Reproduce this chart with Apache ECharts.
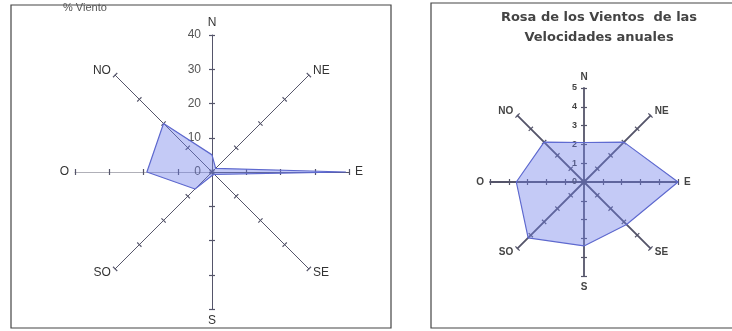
<!DOCTYPE html>
<html>
<head>
<meta charset="utf-8">
<script src="https://cdn.jsdelivr.net/npm/echarts@6/dist/echarts.min.js"></script>
<style>
html,body{margin:0;padding:0;background:#fff;}
#c{width:732px;height:331px;}
</style>
</head>
<body>
<div id="c"></div>
<script>
// Directions, ordered counterclockwise starting at North
const directions = ['N', 'NO', 'O', 'SO', 'S', 'SE', 'E', 'NE'];
// Left chart: % of wind per direction (same order)
const windPercent = [5, 20, 19, 7, 1, 1, 39, 1.5];
const windPercentMax = 40;
// Right chart: annual mean speeds per direction (same order)
const windSpeed = [2.1, 3, 3.6, 4.2, 3.4, 3.2, 5, 3];
const windSpeedMax = 5;
const leftTitle = '% Viento';
const rightTitle = 'Rosa de los Vientos  de las\nVelocidades anuales';

const chart = echarts.init(document.getElementById('c'), null, {renderer: 'canvas'});

const axisColor = '#55556a';
function indicators(max, labelOpt, lightO) {
  return directions.map((d, i) => {
    const ind = {name: d, max: max, min: 0};
    if (i === 0 && labelOpt) ind.axisLabel = Object.assign({show: true}, labelOpt);
    if (d === 'O' && lightO) ind.axisLine = {lineStyle: {color: '#b0b0b8', width: 1}};
    return ind;
  });
}
// main radar + an overlay radar whose ticks point the other way (cross-shaped ticks)
function radarPair(center, radius, max, split, labelOpt, nameOpt, lineW, lightO) {
  const main = {
    center: center, radius: radius, startAngle: 90, shape: 'polygon',
    splitNumber: split,
    indicator: indicators(max, labelOpt, lightO),
    axisName: nameOpt,
    nameGap: 6,
    axisLine: {show: true, lineStyle: {color: axisColor, width: lineW}},
    axisTick: {show: true, length: 3, lineStyle: {color: axisColor, width: 1.2}},
    axisLabel: {show: false},
    splitLine: {show: false},
    splitArea: {show: false}
  };
  const overlay = {
    center: center, radius: radius, startAngle: 90, shape: 'polygon',
    splitNumber: split,
    indicator: indicators(max, null, false),
    axisName: {show: false},
    axisLine: {show: false},
    axisTick: {show: true, length: -3, lineStyle: {color: axisColor, width: 1.2}},
    axisLabel: {show: false},
    splitLine: {show: false},
    splitArea: {show: false}
  };
  return [main, overlay];
}

chart.setOption({
  animation: false,
  title: [
    {text: leftTitle, left: 58, top: -3, textStyle: {fontSize: 11, fontWeight: 'normal', color: '#555', fontFamily: 'Liberation Sans'}},
    {text: rightTitle, left: 594, textAlign: 'center', top: 3, textStyle: {fontSize: 13, fontWeight: 'bold', color: '#444', lineHeight: 20, fontFamily: 'DejaVu Sans'}}
  ],
  graphic: [
    {type: 'rect', shape: {x: 11, y: 5, width: 380, height: 323}, style: {fill: 'none', stroke: '#444', lineWidth: 1.2}, z: -1},
    {type: 'rect', shape: {x: 431, y: 3, width: 320, height: 325}, style: {fill: 'none', stroke: '#444', lineWidth: 1.2}, z: -1}
  ],
  radar: [].concat(
    radarPair([212, 172], 137, windPercentMax, 4,
      {color: '#555', fontSize: 12, margin: 11, fontFamily: 'Liberation Sans'},
      {color: '#333', fontSize: 12, fontFamily: 'Liberation Sans'}, 1, true),
    radarPair([584, 182], 94, windSpeedMax, 5,
      {color: '#444', fontSize: 9, fontWeight: 'bold', margin: 7, fontFamily: 'Liberation Sans'},
      {color: '#444', fontSize: 10, fontWeight: 'bold', fontFamily: 'Liberation Sans'}, 1.8, false)
  ),
  series: [
    {
      type: 'radar', radarIndex: 0, symbol: 'none',
      lineStyle: {color: '#5a64c8', width: 1.2},
      areaStyle: {color: 'rgba(110,125,232,0.58)'},
      data: [{value: windPercent}]
    },
    {
      type: 'radar', radarIndex: 2, symbol: 'none',
      lineStyle: {color: '#5a64c8', width: 1.2},
      areaStyle: {color: 'rgba(110,125,232,0.58)'},
      data: [{value: windSpeed}]
    }
  ]
});
</script>
</body>
</html>
